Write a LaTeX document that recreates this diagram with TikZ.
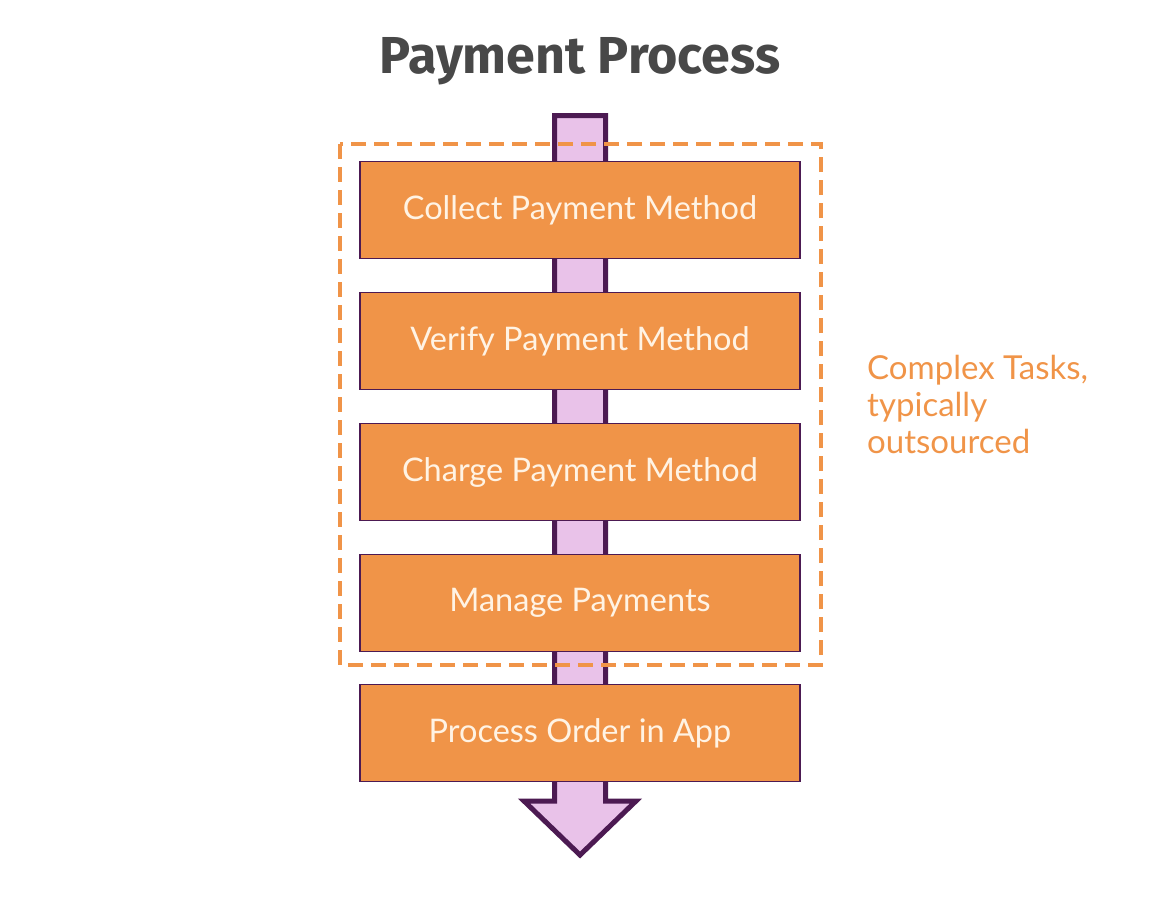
\documentclass[tikz,border=0pt]{standalone}
\usepackage{fontspec}
\setmainfont{Lato}
\newfontfamily\titlefont{Fira Sans Bold}
\definecolor{boxorange}{RGB}{240,148,72}
\definecolor{boxtext}{RGB}{255,243,228}
\definecolor{shaftfill}{RGB}{233,194,233}
\definecolor{darkpurple}{RGB}{76,26,82}
\definecolor{titlegray}{RGB}{72,72,72}
\begin{document}
\begin{tikzpicture}[x=1pt,y=-1pt,
  stepbox/.style={draw=darkpurple,line width=1.8pt,fill=boxorange,minimum width=440pt,minimum height=97pt,inner sep=0pt,text=boxtext,font=\fontsize{32.5}{36}\selectfont},
  groupbox/.style={draw=boxorange,line width=4pt,dash pattern=on 15pt off 8pt},
  flowarrow/.style={draw=darkpurple,fill=shaftfill,line width=5pt,line join=miter}]
\useasboundingbox (0,0) rectangle (1172,908);
\node[anchor=base,inner sep=0pt,text=titlegray,font=\titlefont\fontsize{52}{56}\selectfont] (title) at (580,73) {Payment Process};
\coordinate (atop) at (580,115.5);
\coordinate (atip) at (580,855);
\draw[flowarrow] (554.5,115.5) -- (554.5,801) -- (524,801) -- (atip) -- (636,801) -- (605.5,801) -- (605.5,115.5) -- cycle;
\node[stepbox] (s1) at (580,210) {Collect Payment Method};
\node[stepbox] (s2) at (580,341) {Verify Payment Method};
\node[stepbox] (s3) at (580,472) {Charge Payment Method};
\node[stepbox] (s4) at (580,603) {Manage Payments};
\node[stepbox] (s5) at (580,733) {Process Order in App};
\draw[groupbox] (340,144) rectangle (821,665);
\node[anchor=north west,align=left,text=boxorange,font=\fontsize{33}{37}\selectfont,inner sep=0pt] (note) at (867,355) {Complex Tasks,\\typically\\outsourced};
\end{tikzpicture}
\end{document}
